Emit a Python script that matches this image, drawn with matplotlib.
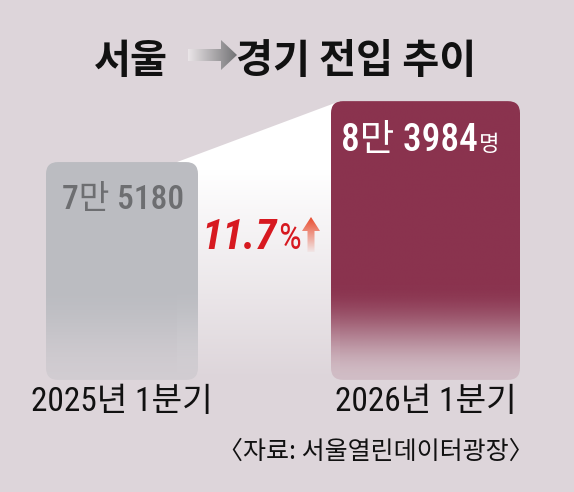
import numpy as np
import matplotlib.pyplot as plt
from matplotlib.patches import FancyBboxPatch, Polygon

plt.rcParams['font.family'] = ['Noto Sans CJK KR', 'DejaVu Sans']

# data
quarters = ['2025년 1분기', '2026년 1분기']
movers = [75180, 83984]
title_from = '서울'
title_to = '경기 전입 추이'
source = '〈자료: 서울열린데이터광장〉'

change = round((movers[1] - movers[0]) / movers[0] * 100, 1)
value_labels = [f'{v // 10000}만 {v % 10000}' for v in movers]

BG = '#ddd5da'
NARROW = ['Roboto Condensed', 'Noto Sans CJK KR']
W, H = 574, 492

fig = plt.figure(figsize=(W / 100, H / 100), dpi=100, facecolor=BG)

# value axes (truncated scale, bars fade out at the bottom)
ax = fig.add_axes([0, 0, 1, 1])
ax.set_axis_off()
ylo, yhi = 27500, 98600
base = 43700
ypp = (yhi - ylo) / H  # value units per pixel

centers = [122, 425.5]
widths = [152, 189]
colors = [(0.737, 0.741, 0.757), (0.545, 0.2, 0.306)]
fade_px = [95, 95]
alpha0 = [0.35, 0.15]

# white wedge between the two bars
wedge = Polygon([(177, movers[0]), (340, movers[1]), (340, base), (177, base)],
                closed=True, facecolor='none', edgecolor='none')
ax.add_patch(wedge)
tt = np.linspace(0, 1, 256)
img = np.ones((256, 1, 4))
img[:, 0, 3] = np.clip(tt / 0.75, 0, 1)
im = ax.imshow(img, extent=(177, 340, base, movers[1]), origin='lower',
               aspect='auto', interpolation='bilinear', zorder=1)
im.set_clip_path(wedge)

bars = ax.bar(centers, [v - base for v in movers], width=widths, bottom=base,
              color='none', edgecolor='none')
for rect, col, fp, a0 in zip(bars, colors, fade_px, alpha0):
    x0, y0, w, h = rect.get_x(), rect.get_y(), rect.get_width(), rect.get_height()
    shape = FancyBboxPatch((x0, y0), w, h, boxstyle='round,pad=0,rounding_size=12',
                           mutation_aspect=ypp, facecolor='none', edgecolor='none')
    ax.add_patch(shape)
    t = np.linspace(0, 1, 300)
    d = np.clip(t * h / ypp / fp, 0, 1)
    s = d * d * (3 - 2 * d)
    g = np.zeros((300, 1, 4))
    g[:, 0, :3] = col
    g[:, 0, 3] = a0 + (1 - a0) * s
    im = ax.imshow(g, extent=(x0, x0 + w, y0, y0 + h), origin='lower',
                   aspect='auto', interpolation='bilinear', zorder=2)
    im.set_clip_path(shape)

ax.set_xlim(0, W)
ax.set_ylim(ylo, yhi)

# pixel overlay for text and decorations
pix = fig.add_axes([0, 0, 1, 1])
pix.set_axis_off()
pix.patch.set_alpha(0)

# title arrow (gray gradient)
arr = Polygon([(188, 49), (221, 49), (221, 40), (237, 55), (221, 70), (221, 61), (188, 61)],
              closed=True, facecolor='none', edgecolor='none')
pix.add_patch(arr)
ga = np.zeros((1, 200, 4))
ga[0, :, :3] = np.linspace([0.92, 0.90, 0.91], [0.45, 0.45, 0.46], 200)
ga[0, :, 3] = 1
im = pix.imshow(ga, extent=(188, 237, 70, 40), origin='upper', aspect='auto',
                interpolation='bilinear')
im.set_clip_path(arr)

# red up arrow
up = Polygon([(311, 217), (320, 231), (314.5, 231), (314.5, 252), (307.5, 252),
              (307.5, 231), (302, 231)], closed=True, facecolor='none', edgecolor='none')
pix.add_patch(up)
gr = np.zeros((200, 1, 4))
gr[:, 0, :3] = (0.91, 0.29, 0.17)
gr[:, 0, 3] = np.linspace(1, 0.05, 200)
im = pix.imshow(gr, extent=(302, 320, 252, 217), origin='upper', aspect='auto',
                interpolation='bilinear')
im.set_clip_path(up)

pix.set_xlim(0, W)
pix.set_ylim(H, 0)

pix.text(131, 73, title_from, ha='center', va='baseline', fontsize=29,
         fontweight='bold', color='#111111')
pix.text(236, 73, title_to, ha='left', va='baseline', fontsize=29,
         fontweight='bold', color='#111111')

pix.text(123, 209, value_labels[0], ha='center', va='baseline', fontsize=24,
         family=NARROW, fontweight='medium', color='#6d6e71')
pix.text(478, 151, value_labels[1], ha='right', va='baseline', fontsize=27,
         family=NARROW, fontweight='medium', color='white')
pix.text(479, 151, '명', ha='left', va='baseline', fontsize=16, color='white')

pix.text(277, 249, f'{change}', ha='right', va='baseline', fontsize=31,
         family=NARROW, fontweight='bold', style='italic', color='#d71920')
pix.text(278, 249, '%', ha='left', va='baseline', fontsize=26,
         family=NARROW, color='#d71920')

for cx, q in zip(centers, quarters):
    pix.text(cx, 411, q, ha='center', va='baseline', fontsize=24,
             family=NARROW, color='#111111')

pix.text(376, 459, source, ha='center', va='baseline', fontsize=18, color='#111111')

fig.savefig('out.png', dpi=100, facecolor=BG)
